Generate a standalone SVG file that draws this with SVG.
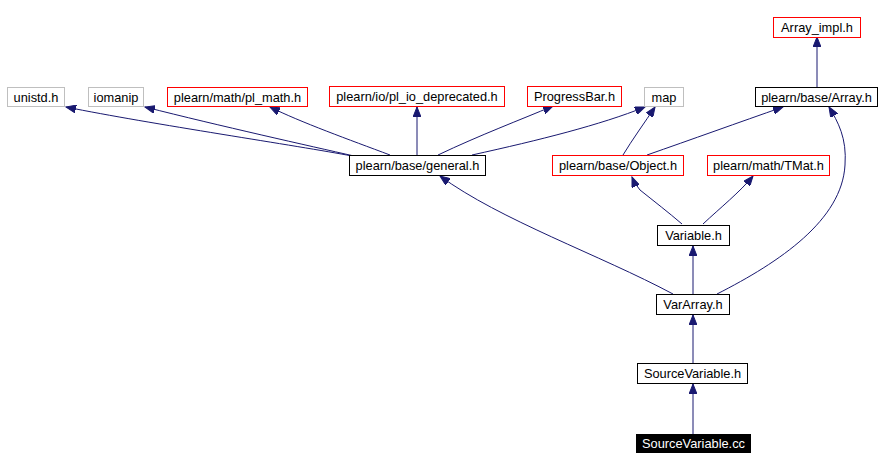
<svg xmlns="http://www.w3.org/2000/svg" width="885" height="470" viewBox="0 0 885 470">
<defs>
<style>
.n rect{fill:#fff;stroke-width:1}
.k rect{stroke:#000}
.r rect{stroke:#ff0000}
.g rect{stroke:#bfbfbf}
text{font-family:"Liberation Sans",Arial,sans-serif;font-size:12.8px;text-anchor:middle;fill:#000}
.e path{fill:none;stroke:#191970;stroke-width:1;marker-end:url(#ah)}
</style>
<marker id="ah" markerUnits="userSpaceOnUse" markerWidth="11" markerHeight="8" refX="10" refY="4" orient="auto">
<path d="M0,0 L10,4 L0,8 z" fill="#191970" stroke="#191970" stroke-width="1"/>
</marker>
</defs>
<rect width="885" height="470" fill="#fff"/>
<g class="e">
<path d="M352,156 C300,146 150,124 66,107"/>
<path d="M354,156 C310,146 220,126 145,107"/>
<path d="M390,155 C350,140 300,122 270,107"/>
<path d="M417,155 L417,107"/>
<path d="M438,155 C480,135 520,120 553,106"/>
<path d="M472,155 C540,140 600,125 645,107"/>
<path d="M623,155 C632,140 645,122 655,107"/>
<path d="M647,155 C690,140 740,122 783,107"/>
<path d="M817,87 L817,37"/>
<path d="M717,294 C780,262 842,220 845,165 C847,138 838,122 829,107"/>
<path d="M682,224 C668,212 655,202 640,190 C637,186 634,182 632,177"/>
<path d="M703,224 C720,208 740,192 753,176"/>
<path d="M673,294 C600,255 500,220 440,176"/>
<path d="M693,294 L693,246"/>
<path d="M693,363 L693,315"/>
<path d="M693,434 L693,384"/>
</g>
<g id="unistd" class="n g"><rect x="7.5" y="87.5" width="57" height="19"/><text x="36" y="101.5">unistd.h</text></g>
<g id="iomanip" class="n g"><rect x="88.5" y="87.5" width="55" height="19"/><text x="116" y="101.5">iomanip</text></g>
<g id="pl_math" class="n r"><rect x="167.5" y="87.5" width="140" height="19"/><text x="237.5" y="101.5">plearn/math/pl_math.h</text></g>
<g id="pl_io" class="n r"><rect x="329.5" y="86.5" width="175" height="20"/><text x="417" y="101">plearn/io/pl_io_deprecated.h</text></g>
<g id="progressbar" class="n r"><rect x="527.5" y="86.5" width="94" height="20"/><text x="574.5" y="101">ProgressBar.h</text></g>
<g id="map" class="n g"><rect x="644.5" y="87.5" width="39" height="19"/><text x="664" y="101.5">map</text></g>
<g id="array" class="n k"><rect x="755.5" y="87.5" width="122" height="19"/><text x="816.5" y="101.5">plearn/base/Array.h</text></g>
<g id="array_impl" class="n r"><rect x="773.5" y="17.5" width="87" height="20"/><text x="817" y="32">Array_impl.h</text></g>
<g id="general" class="n k"><rect x="349.5" y="155.5" width="136" height="20"/><text x="417.5" y="170">plearn/base/general.h</text></g>
<g id="object" class="n r"><rect x="552.5" y="155.5" width="131" height="20"/><text x="618" y="170">plearn/base/Object.h</text></g>
<g id="tmat" class="n r"><rect x="707.5" y="155.5" width="122" height="20"/><text x="768.5" y="170">plearn/math/TMat.h</text></g>
<g id="variable" class="n k"><rect x="657.5" y="225.5" width="72" height="20"/><text x="693.5" y="240">Variable.h</text></g>
<g id="vararray" class="n k"><rect x="656.5" y="294.5" width="73" height="20"/><text x="693" y="309">VarArray.h</text></g>
<g id="sourcevariable_h" class="n k"><rect x="637.5" y="363.5" width="110" height="20"/><text x="692.5" y="378">SourceVariable.h</text></g>
<g id="sourcevariable_cc"><rect x="636" y="434" width="115" height="19" fill="#000"/><text x="693.5" y="448" style="fill:#fff">SourceVariable.cc</text></g>
</svg>
